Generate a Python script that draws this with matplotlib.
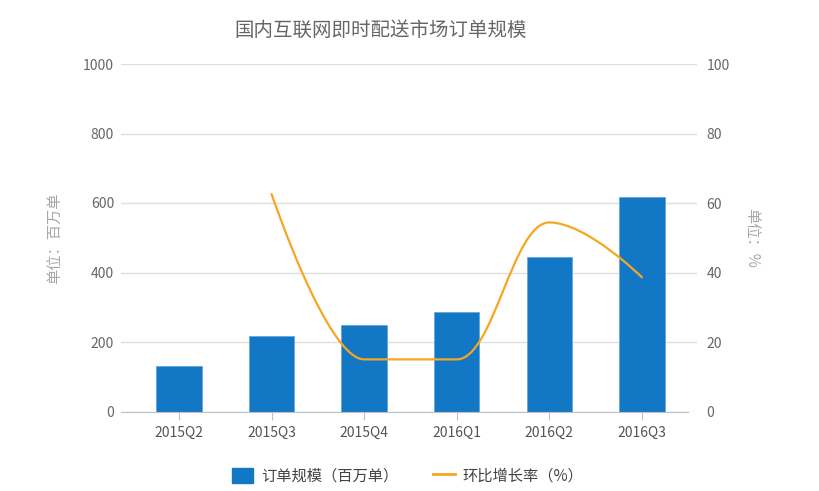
import numpy as np
import matplotlib.pyplot as plt
from matplotlib.path import Path
from matplotlib.patches import PathPatch
from matplotlib.lines import Line2D
from matplotlib.patches import Patch

plt.rcParams['font.family'] = ['Noto Sans CJK SC', 'DejaVu Sans']

quarters = ['2015Q2', '2015Q3', '2015Q4', '2016Q1', '2016Q2', '2016Q3']
orders = [132, 216, 248, 286, 444, 616]          # 百万单
growth = [None, 62.6, 15.0, 15.0, 54.4, 38.6]     # %

BAR_C = '#1278c6'
LINE_C = '#f5a623'


def spline_path(xs, ys, smoothing=1.5):
    # highcharts-like spline: cubic bezier with clamped control points
    n = len(xs)
    left = [None] * n
    right = [None] * n
    for i in range(n):
        x, y = xs[i], ys[i]
        if i == 0 or i == n - 1:
            left[i] = (x, y)
            right[i] = (x, y)
            continue
        lx, ly = xs[i - 1], ys[i - 1]
        nx, ny = xs[i + 1], ys[i + 1]
        d = smoothing + 1
        lcx = (smoothing * x + lx) / d
        lcy = (smoothing * y + ly) / d
        rcx = (smoothing * x + nx) / d
        rcy = (smoothing * y + ny) / d
        corr = 0
        if rcx != lcx:
            corr = (rcy - lcy) * (rcx - x) / (rcx - lcx) + y - rcy
        lcy += corr
        rcy += corr
        if lcy > ly and lcy > y:
            lcy = max(ly, y)
            rcy = 2 * y - lcy
        elif lcy < ly and lcy < y:
            lcy = min(ly, y)
            rcy = 2 * y - lcy
        if rcy > ny and rcy > y:
            rcy = max(ny, y)
            lcy = 2 * y - rcy
        elif rcy < ny and rcy < y:
            rcy = min(ny, y)
            lcy = 2 * y - rcy
        left[i] = (lcx, lcy)
        right[i] = (rcx, rcy)
    verts = [(xs[0], ys[0])]
    codes = [Path.MOVETO]
    for i in range(1, n):
        verts += [right[i - 1], left[i], (xs[i], ys[i])]
        codes += [Path.CURVE4] * 3
    return Path(verts, codes)


fig = plt.figure(figsize=(8.2, 4.91), dpi=100)
ax = fig.add_axes([121 / 820, 79.5 / 491, 576 / 820, 347.5 / 491])
x = np.arange(len(quarters))

ax.bar(x, orders, width=0.49, color=BAR_C, edgecolor='#5fa8e0', linewidth=0.6, zorder=2)
ax.set_ylim(0, 1000)
ax.set_yticks(range(0, 1001, 200))
ax.set_xlim(-0.626, 5.594)
ax.set_xticks(x)
ax.set_xticklabels(quarters)
ax.grid(axis='y', color='#e0e0e0', linewidth=1, zorder=0)
for s in ['top', 'left', 'right']:
    ax.spines[s].set_visible(False)
ax.spines['bottom'].set_color('#c0c0c0')
ax.spines['bottom'].set_bounds(-0.626, 5.5)
ax.tick_params(axis='y', length=0, pad=5, labelsize=10, labelcolor='#666666')
ax.tick_params(axis='x', length=6, color='#c0c0c0', pad=4, labelsize=10, labelcolor='#555555')
ax.set_ylabel('单位：百万单', fontsize=11, color='#a8a8a8', labelpad=14)

ax2 = ax.twinx()
ax2.set_ylim(0, 100)
ax2.set_yticks(range(0, 101, 20))
for s in ax2.spines.values():
    s.set_visible(False)
ax2.tick_params(axis='y', length=0, pad=7, labelsize=10, labelcolor='#666666')
ax2.set_ylabel('单位：%', fontsize=11, color='#a8a8a8', rotation=270, labelpad=22)

gx = [i for i, g in enumerate(growth) if g is not None]
gy = [g for g in growth if g is not None]
ax2.add_patch(PathPatch(spline_path(gx, gy), facecolor='none', edgecolor=LINE_C,
                        linewidth=1.6, capstyle='round', zorder=3))

fig.text(381 / 820, 1 - 30 / 491, '国内互联网即时配送市场订单规模', ha='center', va='center',
         fontsize=14, color='#666666')

handles = [Patch(facecolor=BAR_C, edgecolor=BAR_C),
           Line2D([0], [0], color=LINE_C, linewidth=2)]
fig.legend(handles, ['订单规模（百万单）', '环比增长率（%）'], loc='center',
           bbox_to_anchor=(0.497, 1 - 476 / 491), ncol=2, frameon=False,
           fontsize=11, labelcolor='#444444', handlelength=1.4, handleheight=1.1,
           columnspacing=2.3, handletextpad=0.5)

fig.savefig('out.png', dpi=100)
